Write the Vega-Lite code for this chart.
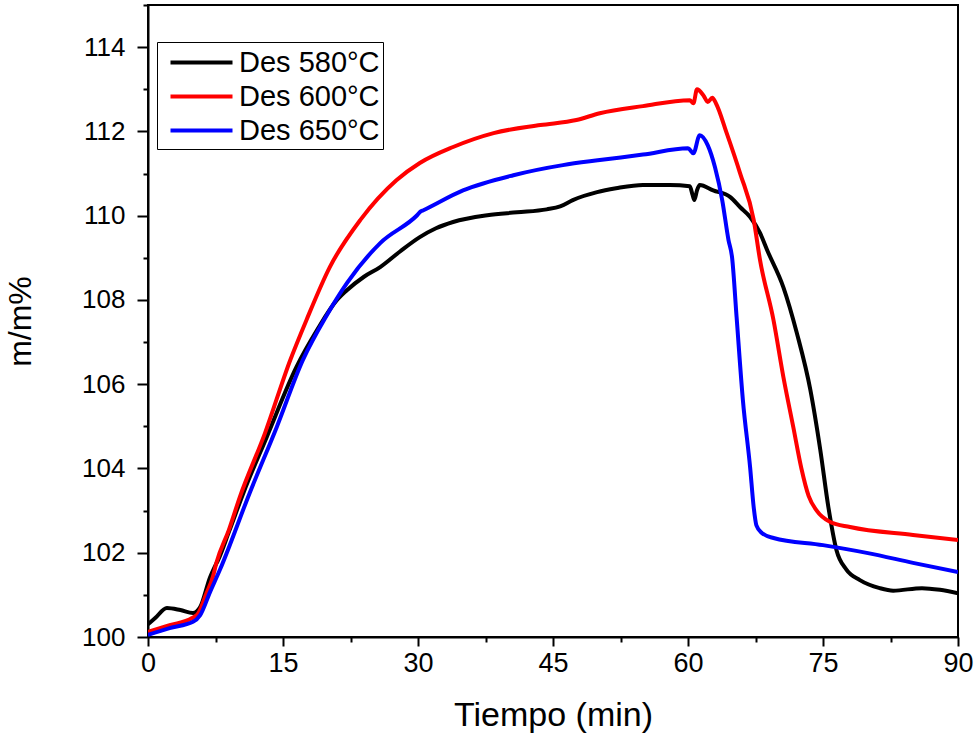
{
  "$schema": "https://vega.github.io/schema/vega-lite/v6.json",
  "width": 810,
  "height": 632,
  "autosize": {"type": "none"},
  "padding": {"left": 148, "top": 5, "right": 19, "bottom": 99},
  "background": "white",
  "config": {
    "font": "Liberation Sans",
    "view": {"stroke": "black", "strokeWidth": 2},
    "axis": {"grid": false, "domainColor": "black", "domainWidth": 2, "tickColor": "black", "tickWidth": 2, "labelColor": "black", "titleColor": "black", "labelFont": "Liberation Sans", "titleFont": "Liberation Sans", "titleFontWeight": "normal"}
  },
  "datasets": {
    "d": [
      {"s": "Des 580°C", "t": 0, "v": 100.3},
      {"s": "Des 580°C", "t": 0.8, "v": 100.45},
      {"s": "Des 580°C", "t": 2.1, "v": 100.69},
      {"s": "Des 580°C", "t": 3.6, "v": 100.64},
      {"s": "Des 580°C", "t": 5, "v": 100.57},
      {"s": "Des 580°C", "t": 5.8, "v": 100.71},
      {"s": "Des 580°C", "t": 6.9, "v": 101.42},
      {"s": "Des 580°C", "t": 7.4, "v": 101.66},
      {"s": "Des 580°C", "t": 7.8, "v": 101.83},
      {"s": "Des 580°C", "t": 9, "v": 102.5},
      {"s": "Des 580°C", "t": 10.6, "v": 103.42},
      {"s": "Des 580°C", "t": 13.2, "v": 104.75},
      {"s": "Des 580°C", "t": 16.5, "v": 106.41},
      {"s": "Des 580°C", "t": 18.8, "v": 107.29},
      {"s": "Des 580°C", "t": 21, "v": 108.0},
      {"s": "Des 580°C", "t": 22.1, "v": 108.23},
      {"s": "Des 580°C", "t": 24, "v": 108.55},
      {"s": "Des 580°C", "t": 25.8, "v": 108.78},
      {"s": "Des 580°C", "t": 28, "v": 109.15},
      {"s": "Des 580°C", "t": 30.2, "v": 109.49},
      {"s": "Des 580°C", "t": 32, "v": 109.7},
      {"s": "Des 580°C", "t": 33.9, "v": 109.85},
      {"s": "Des 580°C", "t": 37.7, "v": 110.01},
      {"s": "Des 580°C", "t": 41, "v": 110.08},
      {"s": "Des 580°C", "t": 44.3, "v": 110.15},
      {"s": "Des 580°C", "t": 45.8, "v": 110.22},
      {"s": "Des 580°C", "t": 47.2, "v": 110.37},
      {"s": "Des 580°C", "t": 49.9, "v": 110.56},
      {"s": "Des 580°C", "t": 52, "v": 110.65},
      {"s": "Des 580°C", "t": 55, "v": 110.73},
      {"s": "Des 580°C", "t": 58, "v": 110.73},
      {"s": "Des 580°C", "t": 60.2, "v": 110.7},
      {"s": "Des 580°C", "t": 60.5, "v": 110.5},
      {"s": "Des 580°C", "t": 60.7, "v": 110.37},
      {"s": "Des 580°C", "t": 61, "v": 110.6},
      {"s": "Des 580°C", "t": 61.3, "v": 110.73},
      {"s": "Des 580°C", "t": 62.8, "v": 110.6},
      {"s": "Des 580°C", "t": 64.7, "v": 110.44},
      {"s": "Des 580°C", "t": 65.8, "v": 110.2},
      {"s": "Des 580°C", "t": 66.9, "v": 109.97},
      {"s": "Des 580°C", "t": 68, "v": 109.59},
      {"s": "Des 580°C", "t": 68.8, "v": 109.18},
      {"s": "Des 580°C", "t": 70.6, "v": 108.3},
      {"s": "Des 580°C", "t": 72.1, "v": 107.21},
      {"s": "Des 580°C", "t": 73.6, "v": 105.86},
      {"s": "Des 580°C", "t": 74.7, "v": 104.44},
      {"s": "Des 580°C", "t": 75.6, "v": 103.08},
      {"s": "Des 580°C", "t": 76.5, "v": 102.06},
      {"s": "Des 580°C", "t": 77.6, "v": 101.6},
      {"s": "Des 580°C", "t": 79.1, "v": 101.35},
      {"s": "Des 580°C", "t": 81.3, "v": 101.16},
      {"s": "Des 580°C", "t": 82.8, "v": 101.1},
      {"s": "Des 580°C", "t": 86, "v": 101.16},
      {"s": "Des 580°C", "t": 88, "v": 101.12},
      {"s": "Des 580°C", "t": 90, "v": 101.04},
      {"s": "Des 600°C", "t": 0, "v": 100.12},
      {"s": "Des 600°C", "t": 2.4, "v": 100.28},
      {"s": "Des 600°C", "t": 4.9, "v": 100.45},
      {"s": "Des 600°C", "t": 5.6, "v": 100.57},
      {"s": "Des 600°C", "t": 6.5, "v": 101.04},
      {"s": "Des 600°C", "t": 7.2, "v": 101.42},
      {"s": "Des 600°C", "t": 7.6, "v": 101.76},
      {"s": "Des 600°C", "t": 9, "v": 102.55},
      {"s": "Des 600°C", "t": 10.2, "v": 103.32},
      {"s": "Des 600°C", "t": 13, "v": 104.84},
      {"s": "Des 600°C", "t": 15.8, "v": 106.57},
      {"s": "Des 600°C", "t": 17.6, "v": 107.52},
      {"s": "Des 600°C", "t": 20.2, "v": 108.78},
      {"s": "Des 600°C", "t": 23.6, "v": 109.9},
      {"s": "Des 600°C", "t": 27.6, "v": 110.84},
      {"s": "Des 600°C", "t": 30.2, "v": 111.25},
      {"s": "Des 600°C", "t": 33.9, "v": 111.63},
      {"s": "Des 600°C", "t": 38.4, "v": 111.96},
      {"s": "Des 600°C", "t": 43.6, "v": 112.15},
      {"s": "Des 600°C", "t": 47.6, "v": 112.27},
      {"s": "Des 600°C", "t": 50.2, "v": 112.43},
      {"s": "Des 600°C", "t": 55, "v": 112.6},
      {"s": "Des 600°C", "t": 60.2, "v": 112.74},
      {"s": "Des 600°C", "t": 60.6, "v": 112.67},
      {"s": "Des 600°C", "t": 61, "v": 113.0},
      {"s": "Des 600°C", "t": 61.7, "v": 112.86},
      {"s": "Des 600°C", "t": 62.2, "v": 112.7},
      {"s": "Des 600°C", "t": 62.7, "v": 112.8},
      {"s": "Des 600°C", "t": 63.1, "v": 112.67},
      {"s": "Des 600°C", "t": 64.3, "v": 111.96},
      {"s": "Des 600°C", "t": 65.8, "v": 111.0},
      {"s": "Des 600°C", "t": 67.3, "v": 109.9},
      {"s": "Des 600°C", "t": 68, "v": 108.95},
      {"s": "Des 600°C", "t": 69.5, "v": 107.52},
      {"s": "Des 600°C", "t": 70.6, "v": 106.17},
      {"s": "Des 600°C", "t": 71.7, "v": 104.98},
      {"s": "Des 600°C", "t": 72.6, "v": 104.0},
      {"s": "Des 600°C", "t": 73.4, "v": 103.35},
      {"s": "Des 600°C", "t": 74.3, "v": 103.0},
      {"s": "Des 600°C", "t": 75.8, "v": 102.73},
      {"s": "Des 600°C", "t": 78, "v": 102.61},
      {"s": "Des 600°C", "t": 85, "v": 102.42},
      {"s": "Des 600°C", "t": 90, "v": 102.3},
      {"s": "Des 650°C", "t": 0, "v": 100.05},
      {"s": "Des 650°C", "t": 2.4, "v": 100.21},
      {"s": "Des 650°C", "t": 5, "v": 100.36},
      {"s": "Des 650°C", "t": 5.8, "v": 100.52},
      {"s": "Des 650°C", "t": 6.9, "v": 101.07},
      {"s": "Des 650°C", "t": 8, "v": 101.6},
      {"s": "Des 650°C", "t": 11.3, "v": 103.42},
      {"s": "Des 650°C", "t": 14.3, "v": 104.98},
      {"s": "Des 650°C", "t": 17.2, "v": 106.57},
      {"s": "Des 650°C", "t": 19.9, "v": 107.65},
      {"s": "Des 650°C", "t": 22.1, "v": 108.4},
      {"s": "Des 650°C", "t": 25.8, "v": 109.35},
      {"s": "Des 650°C", "t": 29.9, "v": 110.01},
      {"s": "Des 650°C", "t": 30.3, "v": 110.1},
      {"s": "Des 650°C", "t": 30.6, "v": 110.13},
      {"s": "Des 650°C", "t": 35, "v": 110.6},
      {"s": "Des 650°C", "t": 40.6, "v": 110.96},
      {"s": "Des 650°C", "t": 46.1, "v": 111.2},
      {"s": "Des 650°C", "t": 50.2, "v": 111.32},
      {"s": "Des 650°C", "t": 55, "v": 111.45},
      {"s": "Des 650°C", "t": 60, "v": 111.6},
      {"s": "Des 650°C", "t": 60.6, "v": 111.48},
      {"s": "Des 650°C", "t": 61.3, "v": 111.91},
      {"s": "Des 650°C", "t": 62.2, "v": 111.67},
      {"s": "Des 650°C", "t": 63, "v": 111.15},
      {"s": "Des 650°C", "t": 63.8, "v": 110.37},
      {"s": "Des 650°C", "t": 64.5, "v": 109.42},
      {"s": "Des 650°C", "t": 64.9, "v": 109.0},
      {"s": "Des 650°C", "t": 65.4, "v": 107.59},
      {"s": "Des 650°C", "t": 66.1, "v": 105.62},
      {"s": "Des 650°C", "t": 66.9, "v": 104.03},
      {"s": "Des 650°C", "t": 67.3, "v": 103.08},
      {"s": "Des 650°C", "t": 67.6, "v": 102.65},
      {"s": "Des 650°C", "t": 68.2, "v": 102.47},
      {"s": "Des 650°C", "t": 69.5, "v": 102.35},
      {"s": "Des 650°C", "t": 75, "v": 102.18},
      {"s": "Des 650°C", "t": 80, "v": 101.99},
      {"s": "Des 650°C", "t": 85, "v": 101.76},
      {"s": "Des 650°C", "t": 90, "v": 101.54}
    ]
  },
  "data": {"name": "d"},
  "mark": {"type": "line", "strokeWidth": 4, "clip": true, "interpolate": "monotone"},
  "encoding": {
    "x": {
      "field": "t", "type": "quantitative",
      "scale": {"domain": [0, 90], "nice": false, "zero": false},
      "axis": {
        "title": "Tiempo (min)", "titleFontSize": 34, "titlePadding": 22,
        "values": [0, 7.5, 15, 22.5, 30, 37.5, 45, 52.5, 60, 67.5, 75, 82.5, 90],
        "labelExpr": "datum.value % 15 === 0 ? datum.label : ''",
        "tickSize": {"expr": "datum.value % 15 === 0 ? 9 : 5"},
        "labelFontSize": 27, "labelPadding": 4, "labelFlush": false, "labelOverlap": false
      }
    },
    "y": {
      "field": "v", "type": "quantitative",
      "scale": {"domain": [100, 115], "nice": false, "zero": false},
      "axis": {
        "title": "m/m%", "titleFontSize": 32, "titlePadding": 44,
        "values": [100, 101, 102, 103, 104, 105, 106, 107, 108, 109, 110, 111, 112, 113, 114, 115],
        "labelExpr": "datum.value % 2 === 0 && datum.value < 115 ? datum.label : ''",
        "tickSize": {"expr": "datum.value % 2 === 0 ? 11 : 5"},
        "labelFontSize": 26, "labelPadding": 12, "labelFlush": false, "labelOverlap": false
      }
    },
    "color": {
      "field": "s", "type": "nominal",
      "scale": {"domain": ["Des 580°C", "Des 600°C", "Des 650°C"], "range": ["#000000", "#ff0000", "#0000ff"]},
      "legend": {
        "title": null, "orient": "none", "legendX": 9, "legendY": 37,
        "symbolType": "M-2,0H2", "symbolSize": 961, "symbolStrokeWidth": 4, "symbolOffset": 24,
        "labelFontSize": 29, "labelFont": "Liberation Sans", "labelColor": "black",
        "rowPadding": 1, "labelOffset": 20,
        "strokeColor": "black", "fillColor": "white", "padding": 3
      }
    }
  }
}
